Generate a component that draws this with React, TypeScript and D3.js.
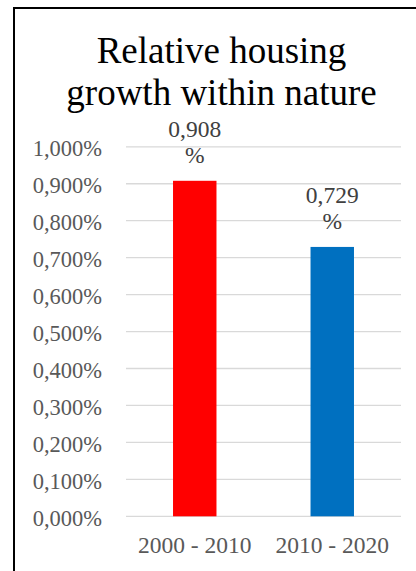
import React from "react";
import * as d3 from "d3";

const categories = ["2000 - 2010", "2010 - 2020"];
const growthPct = [0.908, 0.729];
const barColors = ["#ff0000", "#0070c0"];
const yTicks = [0, 0.1, 0.2, 0.3, 0.4, 0.5, 0.6, 0.7, 0.8, 0.9, 1.0];
const titleLines = ["Relative housing", "growth within nature"];

const W = 416;
const H = 571;
const FONT = "Liberation Serif, Times New Roman, Times, DejaVu Serif, serif";

const locale = d3.formatLocale({
  decimal: ",",
  thousands: ".",
  grouping: [3],
  currency: ["", ""],
});
const fmt3 = locale.format(".3f");

export default function App() {
  const y = d3.scaleLinear().domain([0, 1.0]).range([516.3, 146.8]);
  const x = d3
    .scaleBand<string>()
    .domain(categories)
    .range([126, 401])
    .paddingInner(0.684)
    .paddingOuter(0.342);

  const textStyle = { fontFamily: FONT };

  return (
    <svg
      width={W}
      height={H}
      style={{ position: "absolute", left: 0, top: 0, background: "#fff", fontFamily: FONT }}
    >
      <rect x={0} y={0} width={W} height={H} fill="#fff" />
      <rect x={14} y={8} width={W + 20} height={H + 20} fill="none" stroke="#000" strokeWidth={2} />

      {titleLines.map((t, i) => (
        <text key={t} x={221.5} y={63 + i * 42} textAnchor="middle" fontSize={37} fill="#000" style={textStyle}>
          {t}
        </text>
      ))}

      {yTicks.map((v) => (
        <g key={v}>
          <line x1={126} x2={401} y1={y(v)} y2={y(v)} stroke="#d9d9d9" strokeWidth={1.3} />
          <text x={102} y={y(v) + 9.5} textAnchor="end" fontSize={22.5} fill="#595959" style={textStyle}>
            {fmt3(v)}%
          </text>
        </g>
      ))}

      {categories.map((c, i) => {
        const bx = x(c)!;
        const cx = bx + x.bandwidth() / 2;
        return (
          <g key={c}>
            <rect
              x={bx}
              y={y(growthPct[i])}
              width={x.bandwidth()}
              height={y(0) - y(growthPct[i])}
              fill={barColors[i]}
            />
            <text x={cx} y={y(growthPct[i]) - 44} textAnchor="middle" fontSize={23.5} fill="#404040" style={textStyle}>
              {fmt3(growthPct[i])}
            </text>
            <text x={cx} y={y(growthPct[i]) - 18} textAnchor="middle" fontSize={23.5} fill="#404040" style={textStyle}>
              %
            </text>
            <text x={cx} y={553} textAnchor="middle" fontSize={23.5} fill="#595959" style={textStyle}>
              {c}
            </text>
          </g>
        );
      })}
    </svg>
  );
}
